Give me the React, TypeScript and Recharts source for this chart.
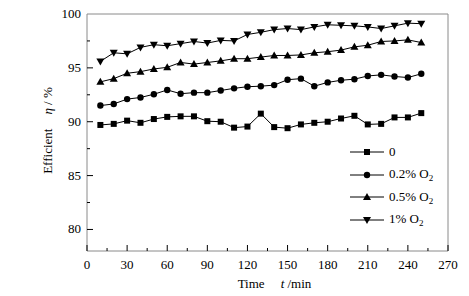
import { Legend, Line, LineChart, ReferenceLine, XAxis, YAxis } from "recharts"

const times = [10, 20, 30, 40, 50, 60, 70, 80, 90, 100, 110, 120, 130, 140, 150, 160, 170, 180, 190, 200, 210, 220, 230, 240, 250]

const noO2 = [89.7, 89.8, 90.1, 89.9, 90.25, 90.45, 90.5, 90.5, 90.05, 90.0, 89.45, 89.55, 90.75, 89.5, 89.4, 89.75, 89.9, 90.0, 90.3, 90.55, 89.75, 89.8, 90.4, 90.4, 90.8]
const o2_02 = [91.5, 91.65, 92.1, 92.25, 92.55, 92.95, 92.6, 92.7, 92.7, 92.9, 93.1, 93.25, 93.3, 93.4, 93.9, 94.0, 93.3, 93.65, 93.85, 93.95, 94.25, 94.35, 94.2, 94.1, 94.45]
const o2_05 = [93.7, 94.0, 94.5, 94.65, 94.9, 95.05, 95.5, 95.35, 95.5, 95.65, 95.85, 95.85, 96.0, 96.15, 96.15, 96.2, 96.4, 96.5, 96.65, 96.95, 97.1, 97.45, 97.5, 97.6, 97.35]
const o2_1 = [95.6, 96.4, 96.3, 96.9, 97.15, 97.05, 97.25, 97.45, 97.3, 97.55, 97.5, 98.1, 98.3, 98.55, 98.65, 98.55, 98.8, 99.0, 98.95, 98.9, 98.8, 98.65, 98.9, 99.15, 99.1]

const xTicks = [0, 15, 30, 45, 60, 75, 90, 105, 120, 135, 150, 165, 180, 195, 210, 225, 240, 255, 270]
const yTicks = [80, 82.5, 85, 87.5, 90, 92.5, 95, 97.5, 100]

const data = times.map((t, i) => ({
  t,
  s0: noO2[i],
  s1: o2_02[i],
  s2: o2_05[i],
  s3: o2_1[i],
}))

const font = "'Liberation Serif', 'Times New Roman', serif"
const axisGray = "#8a8a8a"

type Shape = "square" | "circle" | "up" | "down"

function marker(shape: Shape, cx: number, cy: number, key?: string | number) {
  if (shape === "square") return <rect key={key} x={cx - 3} y={cy - 3} width={6} height={6} fill="#000" />
  if (shape === "circle") return <circle key={key} cx={cx} cy={cy} r={3.2} fill="#000" />
  if (shape === "up")
    return <polygon key={key} points={`${cx},${cy - 4} ${cx - 4},${cy + 3} ${cx + 4},${cy + 3}`} fill="#000" />
  return <polygon key={key} points={`${cx - 4},${cy - 3} ${cx + 4},${cy - 3} ${cx},${cy + 4}`} fill="#000" />
}

const dotFor = (shape: Shape) => (props: any) => marker(shape, props.cx, props.cy, props.index)

const series: { key: string; shape: Shape; name: string; sub: boolean }[] = [
  { key: "s0", shape: "square", name: "0", sub: false },
  { key: "s1", shape: "circle", name: "0.2% O", sub: true },
  { key: "s2", shape: "up", name: "0.5% O", sub: true },
  { key: "s3", shape: "down", name: "1% O", sub: true },
]

function XTick(props: any) {
  const { x, y, payload } = props
  const major = payload.value % 30 === 0
  return (
    <g>
      <line x1={x} x2={x} y1={y} y2={y - (major ? 6 : 3)} stroke="#000" />
      {major && (
        <text x={x} y={y + 18} textAnchor="middle" fontSize={13} fontFamily={font} fill="#000">
          {payload.value}
        </text>
      )}
    </g>
  )
}

function YTick(props: any) {
  const { x, y, payload } = props
  const major = payload.value % 5 === 0
  if (payload.value === 100) {
    return (
      <text x={x - 6} y={y + 4} textAnchor="end" fontSize={13} fontFamily={font} fill="#000">
        100
      </text>
    )
  }
  return (
    <g>
      <line x1={x} x2={x + (major ? 6 : 3)} y1={y} y2={y} stroke="#000" />
      {major && (
        <text x={x - 6} y={y + 4} textAnchor="end" fontSize={13} fontFamily={font} fill="#000">
          {payload.value}
        </text>
      )}
    </g>
  )
}

function YTitle(props: any) {
  const vb = props.viewBox || {}
  const cx = 47
  const cy = vb.y + vb.height / 2 - 2
  return (
    <text
      x={cx}
      y={cy}
      transform={`rotate(-90 ${cx} ${cy})`}
      textAnchor="middle"
      dominantBaseline="central"
      fontSize={13}
      fontFamily={font}
      fill="#000"
    >
      Efficient
      <tspan dx={14} fontStyle="italic">η</tspan>
      <tspan> / %</tspan>
    </text>
  )
}

function XTitle(props: any) {
  const vb = props.viewBox || {}
  const cx = vb.x + vb.width / 2 + 7
  return (
    <text x={cx} y={vb.y + 37} textAnchor="middle" fontSize={13} fontFamily={font} fill="#000">
      Time
      <tspan dx={16} fontStyle="italic">t</tspan>
      <tspan> /min</tspan>
    </text>
  )
}

function LegendBox() {
  return (
    <div style={{ fontFamily: font, fontSize: 13, color: "#000" }}>
      {series.map((s) => (
        <div key={s.key} style={{ display: "flex", alignItems: "center", height: 22.5 }}>
          <svg width={34} height={12} style={{ marginRight: 5 }}>
            <line x1={0} x2={34} y1={6} y2={6} stroke="#000" />
            {marker(s.shape, 17, 6)}
          </svg>
          <span>
            {s.name}
            {s.sub && <sub style={{ fontSize: 9, verticalAlign: -3 }}>2</sub>}
          </span>
        </div>
      ))}
    </div>
  )
}

export default function App() {
  return (
    <div style={{ position: "absolute", left: 0, top: 0, background: "#fff" }}>
      <LineChart width={469} height={296} data={data} margin={{ top: 14, right: 21, left: 0, bottom: 0 }}>
        <XAxis
          dataKey="t"
          type="number"
          domain={[0, 270]}
          ticks={xTicks}
          interval={0}
          tickSize={0}
          tickMargin={0}
          tickLine={false}
          stroke={axisGray}
          height={45}
          tick={<XTick />}
          label={<XTitle />}
        />
        <YAxis
          type="number"
          domain={[78, 100]}
          ticks={yTicks}
          interval={0}
          tickSize={0}
          tickMargin={0}
          tickLine={false}
          stroke={axisGray}
          width={87}
          tick={<YTick />}
          label={<YTitle />}
        />
        <ReferenceLine y={100} stroke={axisGray} />
        <ReferenceLine x={270} stroke={axisGray} />
        <Legend
          layout="horizontal"
          verticalAlign="middle"
          align="center"
          wrapperStyle={{ left: 350, top: 141, width: 110, height: 90 }}
          content={<LegendBox />}
        />
        {series.map((s) => (
          <Line
            key={s.key}
            dataKey={s.key}
            type="linear"
            stroke="#000"
            strokeWidth={1}
            dot={dotFor(s.shape)}
            activeDot={false}
            isAnimationActive={false}
          />
        ))}
      </LineChart>
    </div>
  )
}
